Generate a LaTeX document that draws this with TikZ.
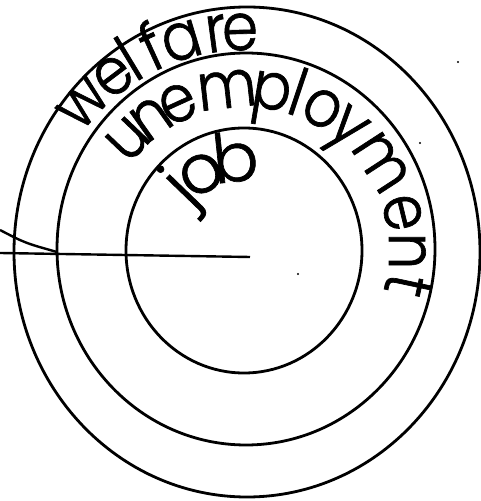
\documentclass[tikz,border=0pt]{standalone}
\usepackage{fontspec}
\IfFontExistsTF{Poppins Light}
  {\newfontfamily\ringfam[FakeStretch=0.88,FakeBold=1]{Poppins Light}\newfontfamily\jobfam[FakeBold=1]{Poppins Light}}
  {\newfontfamily\ringfam[FakeStretch=0.88]{Poppins}\newfontfamily\jobfam{Poppins}}
\usetikzlibrary{calc}
\newcommand\ltr[5]{\node[#1,rotate={#3-90}] (#2) at ($(C)+(#3:#4pt)$) {#5};}
\begin{document}
\begin{tikzpicture}[x=1pt,y=1pt,
  ring/.style={line width=2.8pt},
  spoke/.style={line width=2.4pt},
  speck/.style={fill=black},
  glyph/.style={inner sep=0pt, anchor=base, font=\ringfam\fontsize{66}{70}\selectfont},
  bigglyph/.style={glyph, font=\jobfam\fontsize{68}{72}\selectfont}]
\useasboundingbox (0,0) rectangle (480,501);
\coordinate (C) at (245,250);
% rings
\draw[ring] (247,249) ellipse[x radius=233pt, y radius=245pt];
\draw[ring] (246,252) ellipse[x radius=189pt, y radius=196pt];
\draw[ring] (244,250.5) ellipse[x radius=118pt, y radius=122.5pt];
% spokes
\coordinate (L0) at (0,248);
\coordinate (hub) at (250,244);
\coordinate (L1) at (0,271);
\coordinate (meet) at (57,249);
\draw[spoke] (L0) -- (hub);
\draw[spoke] (L1) .. controls (25,258) .. (meet);
% welfare
\ltr{glyph}{w1}{137.6}{201}{w}
\ltr{glyph}{w2}{127}{201}{e}
\ltr{glyph}{w3}{121.2}{201}{l}
\ltr{glyph}{w4}{114.6}{201}{f}
\ltr{glyph}{w5}{106.8}{201}{a}
\ltr{glyph}{w6}{97.6}{201}{r}
\ltr{glyph}{w7}{91.3}{201}{e}
% unemployment
\ltr{glyph}{u1}{136.3}{144}{u}
\ltr{glyph}{u2}{125.3}{144}{n}
\ltr{glyph}{u3}{114.5}{144}{e}
\ltr{glyph}{u4}{96.4}{144}{m}
\ltr{glyph}{u5}{80.5}{144}{p}
\ltr{glyph}{u6}{71.5}{144}{l}
\ltr{glyph}{u7}{61.5}{144}{o}
\ltr{glyph}{u8}{50.3}{144}{y}
\ltr{glyph}{u9}{33}{144}{m}
\ltr{glyph}{u10}{13.7}{144}{e}
\ltr{glyph}{u11}{0}{144}{n}
\ltr{glyph}{u12}{-12}{144}{t}
% job
\ltr{bigglyph}{j1}{136}{70}{j}
\ltr{bigglyph}{j2}{119.5}{70}{o}
\ltr{bigglyph}{j3}{96}{70}{b}
% specks
\fill[speck] (458,439) circle[radius=1.2pt];
\fill[speck] (420,358) circle[radius=1.2pt];
\fill[speck] (298,227) circle[radius=1.2pt];
\end{tikzpicture}
\end{document}
